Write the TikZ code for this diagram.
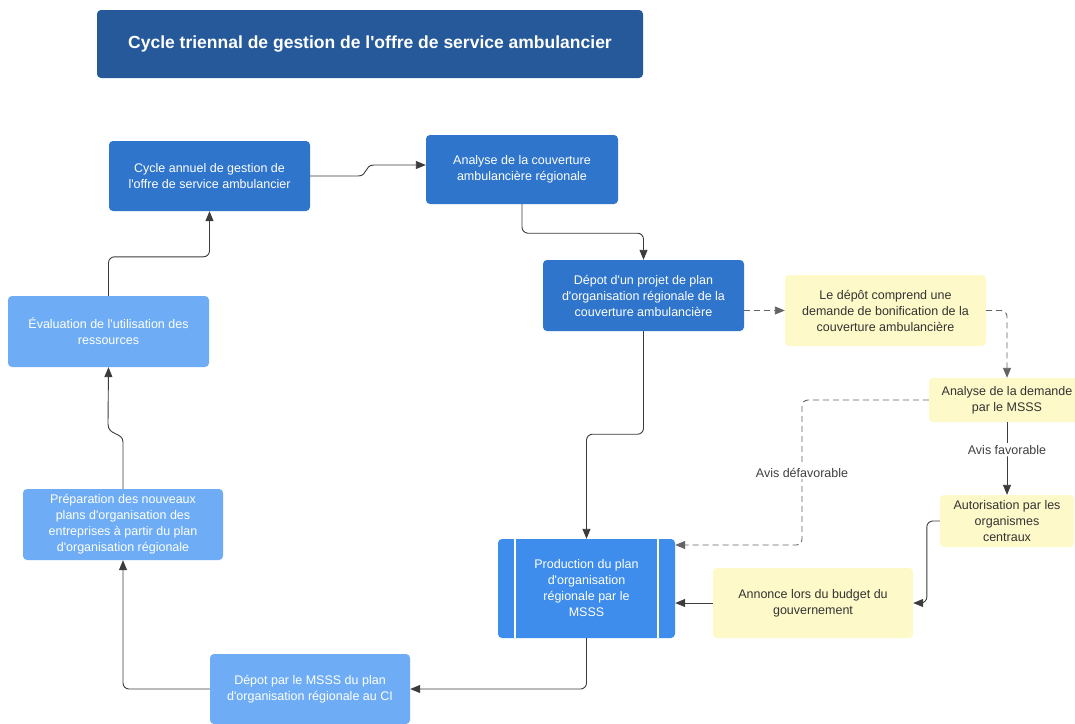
\documentclass[tikz,border=0pt]{standalone}
\usepackage{fontspec}
\setmainfont{Liberation Sans}
\usetikzlibrary{arrows.meta, calc}
\usepackage{xcolor}
\definecolor{lucdark}{RGB}{37, 89, 153}
\definecolor{lucmid}{RGB}{47, 117, 204}
\definecolor{lucprod}{RGB}{62, 140, 235}
\definecolor{luclight}{RGB}{110, 173, 246}
\definecolor{lucyellow}{RGB}{253, 249, 200}
\definecolor{lucline}{RGB}{60, 60, 60}
\definecolor{lucdash}{RGB}{100, 100, 100}
\newcommand{\sq}{\textquotesingle}
\tikzset{
  basebox/.style={
    rectangle, rounded corners=4pt, align=center,
    inner sep=4pt, font=\fontsize{12.5}{16}\selectfont
  },
  titlebox/.style={
    basebox, fill=lucdark, text=white,
    minimum width=546pt, minimum height=68pt,
    font=\fontsize{17.5}{20}\selectfont\bfseries
  },
  mbox/.style={
    basebox, fill=lucmid, text=white,
    minimum width=201pt, minimum height=70pt
  },
  lbox/.style={
    basebox, fill=luclight, text=white,
    minimum width=201pt, minimum height=71pt
  },
  ybox/.style={
    basebox, fill=lucyellow, text=black!80
  },
  prodbox/.style={
    basebox, fill=lucprod, text=white,
    minimum width=177pt, minimum height=99pt
  },
  arr/.style={-{Triangle[length=10pt,width=8pt]}, line width=0.9pt, color=lucline, rounded corners=6pt},
  darr/.style={arr, color=lucdash, dash pattern=on 6pt off 4pt},
  lbl/.style={fill=white, inner sep=2pt, text=black!75, font=\fontsize{12.5}{16}\selectfont},
}

\begin{document}
\begin{tikzpicture}[x=1pt, y=-1pt]
        \fill[white] (0,0) rectangle (1075,723);
        \useasboundingbox (0,0) rectangle (1075,723);
        \node[titlebox] (title) at (370,44) {Cycle triennal de gestion de l\sq offre de service ambulancier};
        \node[mbox] (cyc)  at (209.5,176)   {Cycle annuel de gestion de\\l\sq offre de service ambulancier};
        \node[mbox, minimum width=192pt, minimum height=69pt] (ana) at (522,169.5) {Analyse de la couverture\\ambulancière régionale};
        \node[mbox, minimum height=71pt] (dep) at (643.5,295.5) {Dépot d\sq un projet de plan\\d\sq organisation régionale de la\\couverture ambulancière};
        \node[ybox, minimum width=201pt, minimum height=71pt] (bon) at (885.5,310.5) {Le dépôt comprend une\\demande de bonification de la\\couverture ambulancière};
        \node[ybox, minimum width=156pt, minimum height=44pt] (dem) at (1007,400) {Analyse de la demande\\par le MSSS};
        \node[ybox, minimum width=134pt, minimum height=52pt] (aut) at (1007,521) {Autorisation par les\\organismes\\centraux};
        \node[ybox, minimum width=200pt, minimum height=70pt] (ann) at (813,603) {Annonce lors du budget du\\gouvernement};
        \node[prodbox] (prod) at (586.5,588.5) {Production du plan\\d\sq organisation\\régionale par le\\MSSS};
        \node[lbox, minimum width=200pt, minimum height=70pt] (mdep) at (310,689) {Dépot par le MSSS du plan\\d\sq organisation régionale au CI};
        \node[lbox, minimum width=200pt] (prep) at (123,524.5) {Préparation des nouveaux\\plans d\sq organisation des\\entreprises à partir du plan\\d\sq organisation régionale};
        \node[lbox] (eva) at (108.5,331.5) {Évaluation de l\sq utilisation des\\ressources};
        % bandes du processus
        \draw[white, line width=1.5pt] ([xshift=17pt]prod.north west) -- ([xshift=17pt]prod.south west);
        \draw[white, line width=1.5pt] ([xshift=-17pt]prod.north east) -- ([xshift=-17pt]prod.south east);
        % connecteurs
        \coordinate (j1) at (374,165);
        \coordinate (dv) at (802,545);
        \draw[arr, sharp corners] (cyc.east) -- (358,176) .. controls (368,176) and (364,165) .. (j1) -- (j1 -| ana.west);
        \draw[arr] (ana.south) -- ++(0,29) -| (dep.north);
        \draw[darr] (dep.east |- bon.west) -- (bon.west);
        \draw[darr] (bon.east) -| (dem.north);
        \draw[arr] (dem.south) -- node[lbl, pos=0.38] {Avis favorable} (aut.north);
        \draw[darr] (dem.west) -| node[lbl, pos=0.75] {Avis défavorable} (dv) -- (dv -| prod.east);
        \draw[arr] (aut.west) -- ++(-13,0) |- (ann.east);
        \draw[arr] (ann.west) -- (prod.east |- ann.west);
        \draw[arr] (dep.south) -- ++(0,103) -| (prod.north);
        \draw[arr] (prod.south) |- (mdep.east);
        \draw[arr] (mdep.west) -| (prep.south);
        \draw[arr, sharp corners] (prep.north) -- (123,442) .. controls (123,432) and (108,436) .. (108,424) -- (eva.south);
        \draw[arr] (eva.north) -- ++(0,-39) -| (cyc.south);
      \end{tikzpicture}
\end{document}
